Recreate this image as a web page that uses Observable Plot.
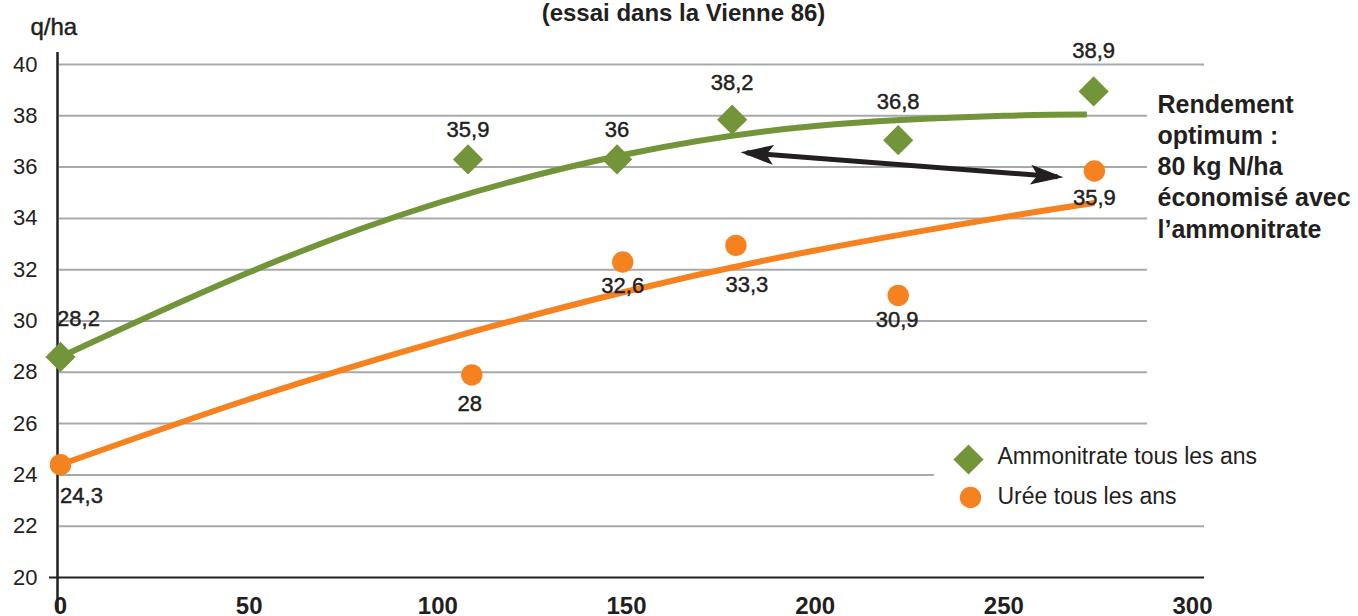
<!DOCTYPE html>
<html>
<head>
<meta charset="utf-8">
<script src="https://cdn.jsdelivr.net/npm/d3@7"></script>
<script src="https://cdn.jsdelivr.net/npm/@observablehq/plot@0.6"></script>
<style>
  html, body { margin: 0; padding: 0; background: #fff; overflow: hidden; }
  #chart { width: 1358px; height: 616px; }
</style>
</head>
<body>
<div id="chart"></div>
<script>
// ---- data ----
const title = "(essai dans la Vienne 86)";
const yUnit = "q/ha";
const xTicks = [0, 50, 100, 150, 200, 250, 300];
const yTicks = [20, 22, 24, 26, 28, 30, 32, 34, 36, 38, 40];

const seriesNames = ["Ammonitrate tous les ans", "Urée tous les ans"];

// Ammonitrate points (kg N/ha, q/ha) and their printed labels
const ammoN = [0, 108, 147.5, 178, 222, 273.8];
const ammoYield = [28.6, 36.3, 36.3, 37.85, 37.05, 38.95];
const ammoLabels = ["28,2", "35,9", "36", "38,2", "36,8", "38,9"];

// Urée points and labels
const ureeN = [0, 109, 149, 179, 222, 274];
const ureeYield = [24.4, 27.9, 32.3, 32.95, 31.0, 35.85];
const ureeLabels = ["24,3", "28", "32,6", "33,3", "30,9", "35,9"];

// Trend curves
const ammoTrendN = [0, 50, 100, 150, 200, 250, 272];
const ammoTrendYield = [28.6, 31.9, 34.6, 36.5, 37.6, 38.0, 38.05];
const ureeTrendN = [0, 50, 100, 150, 200, 250, 274];
const ureeTrendYield = [24.4, 26.95, 29.2, 31.15, 32.75, 34.05, 34.6];

const annotation = "Rendement\noptimum :\n80 kg N/ha\néconomisé avec\nl\u2019ammonitrate";

// ---- build tables ----
const ammo = ammoN.map((n, i) => ({n, y: ammoYield[i], label: ammoLabels[i]}));
const uree = ureeN.map((n, i) => ({n, y: ureeYield[i], label: ureeLabels[i]}));
const ammoTrend = ammoTrendN.map((n, i) => ({n, y: ammoTrendYield[i]}));
const ureeTrend = ureeTrendN.map((n, i) => ({n, y: ureeTrendYield[i]}));

// ---- layout ----
const W = 1358, H = 616;
const mL = 60, mR = 166, mT = 64, mB = 39;
const kx = (W - mL - mR) / 300, ky = (H - mT - mB) / 20;
const px2x = p => (p - mL) / kx;   // layout pixel -> data x (annotations only)
const px2y = p => 40 - (p - mT) / ky;

const green = "#739539", orange = "#F5821F", ink = "#231F20", grid = "#A7A9AC";
const sans = "'Liberation Sans', Arial, Helvetica, sans-serif";
const medium = {stroke: ink, strokeWidth: 0.45};

const gridEnd = v => (v === 40 || v === 22) ? px2x(1204) : (v === 24 ? px2x(934) : px2x(1147));

// label offsets in px (dx, dy)
const ammoOff = [[18, -38], [0, -29], [0, -29], [0, -37], [0, -38], [0, -40]];
const ureeOff = [[21, 31], [-2, 29], [0, 24], [11, 40], [-1, 25], [0, 27]];

const marks = [
  // grid
  Plot.ruleY(yTicks.filter(v => v > 20), {y: d => d, x1: () => px2x(59), x2: gridEnd, stroke: grid, strokeWidth: 2}),
  // axes lines
  Plot.ruleY([20], {y: d => d, x1: () => px2x(49), x2: () => px2x(1204), stroke: ink, strokeWidth: 2}),
  Plot.ruleX([0], {x: () => px2x(57), y1: () => px2y(52), y2: () => px2y(611), stroke: ink, strokeWidth: 2.5}),
  Plot.axisY(yTicks, {tickSize: 0, tickPadding: 23, fontSize: 22, fontFamily: sans, label: null, fill: ink, ...medium}),
  Plot.axisX(xTicks, {tickSize: 0, tickPadding: 19, fontSize: 24, fontFamily: sans, fontWeight: "bold", label: null, fill: ink}),
  // trends
  Plot.line(ureeTrend, {x: "n", y: "y", stroke: orange, strokeWidth: 6, curve: "natural", strokeLinecap: "butt"}),
  Plot.line(ammoTrend, {x: "n", y: "y", stroke: green, strokeWidth: 6, curve: "natural", strokeLinecap: "butt"}),
  // points
  Plot.dot(uree, {x: "n", y: "y", r: 10.7, fill: orange, symbol: "circle"}),
  Plot.dot(ammo, {x: "n", y: "y", r: 13.6, fill: green, symbol: "diamond2"}),
  // labels
  ...ammo.map((d, i) => Plot.text([d], {x: "n", y: "y", text: "label", dx: ammoOff[i][0], dy: ammoOff[i][1], fontSize: 22, fontFamily: sans, fill: ink, ...medium})),
  ...uree.map((d, i) => Plot.text([d], {x: "n", y: "y", text: "label", dx: ureeOff[i][0], dy: ureeOff[i][1], fontSize: 22, fontFamily: sans, fill: ink, ...medium})),
  // arrow
  Plot.link([{x1: px2x(746), y1: px2y(152.3), x2: px2x(1057), y2: px2y(176.2)}],
    {x1: "x1", y1: "y1", x2: "x2", y2: "y2", stroke: ink, strokeWidth: 5, className: "optarrow"}),
  // annotation
  Plot.text([annotation], {x: () => px2x(1157), y: () => px2y(90), text: d => d, textAnchor: "start", lineAnchor: "top",
    lineHeight: 1.25, fontSize: 25, fontWeight: "bold", fontFamily: sans, fill: ink}),
  // legend
  Plot.dot([seriesNames[0]], {x: () => px2x(968), y: () => px2y(459), r: 13.6, fill: green, symbol: "diamond2"}),
  Plot.dot([seriesNames[1]], {x: () => px2x(970), y: () => px2y(497), r: 10.7, fill: orange, symbol: "circle"}),
  Plot.text([seriesNames[0]], {x: () => px2x(997), y: () => px2y(456), text: d => d, textAnchor: "start", fontSize: 23, fontFamily: sans, fill: ink}),
  Plot.text([seriesNames[1]], {x: () => px2x(997), y: () => px2y(496), text: d => d, textAnchor: "start", fontSize: 23, fontFamily: sans, fill: ink}),
  // titles
  Plot.text([title], {x: () => px2x(683), y: () => px2y(13), text: d => d, fontSize: 24, fontFamily: sans, fontWeight: "bold", fill: ink}),
  Plot.text([yUnit], {x: () => px2x(30), y: () => px2y(27), text: d => d, textAnchor: "start", fontSize: 24, fontFamily: sans, fill: ink, ...medium})
];

const chart = Plot.plot({
  width: W, height: H,
  marginLeft: mL, marginRight: mR, marginTop: mT, marginBottom: mB,
  x: {domain: [0, 300]},
  y: {domain: [20, 40]},
  style: {background: "#fff", fontFamily: sans, color: ink, overflow: "visible"},
  marks
});

// filled double arrow heads on the link
const svg = d3.select(chart);
const defs = svg.insert("defs", ":first-child");
defs.append("marker")
  .attr("id", "opthead")
  .attr("viewBox", "-30 -12 40 24")
  .attr("markerWidth", 40).attr("markerHeight", 24)
  .attr("markerUnits", "userSpaceOnUse")
  .attr("refX", 0).attr("refY", 0)
  .attr("orient", "auto-start-reverse")
  .style("overflow", "visible")
  .append("path")
  .attr("d", "M6,0 L-27,-10 L-20,0 L-27,10 Z")
  .attr("fill", ink);
svg.selectAll(".optarrow path")
  .attr("marker-start", "url(#opthead)")
  .attr("marker-end", "url(#opthead)");

document.getElementById("chart").appendChild(chart);
</script>
</body>
</html>
